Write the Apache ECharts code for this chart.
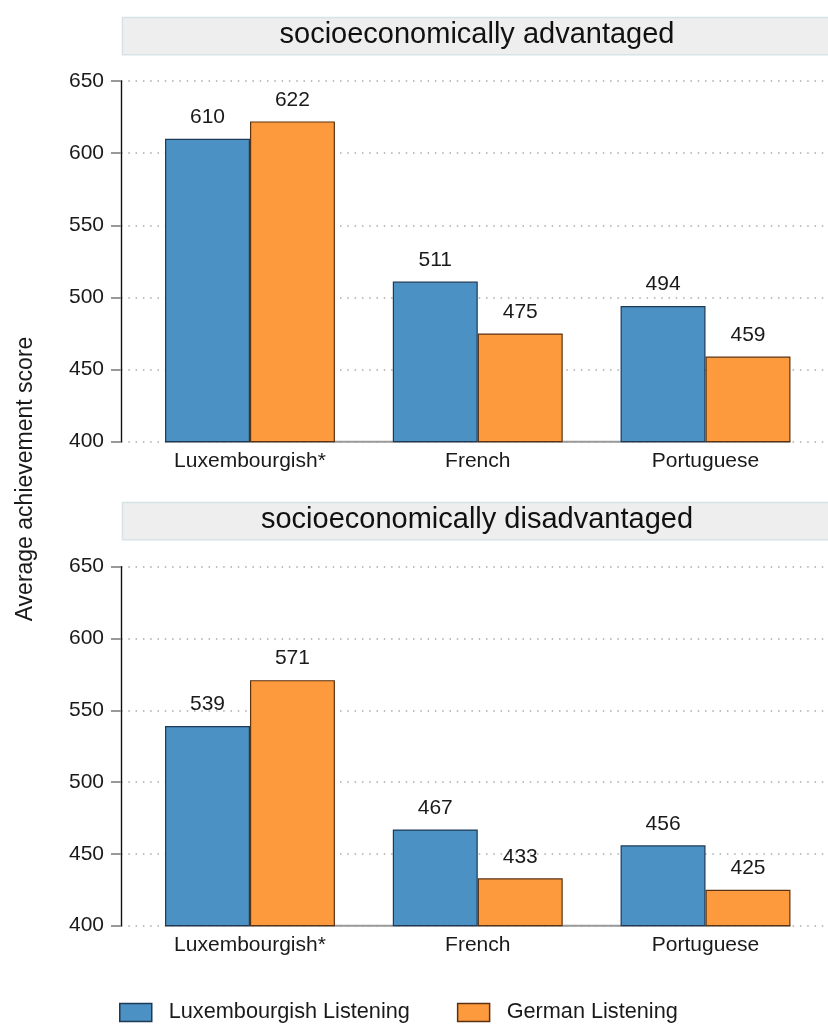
<!DOCTYPE html>
<html>
<head>
<meta charset="utf-8">
<script src="https://cdn.jsdelivr.net/npm/echarts@6/dist/echarts.min.js"></script>
<style>
html,body{margin:0;padding:0;background:#fff;}
#chart{width:828px;height:1026px;}
</style>
</head>
<body>
<div id="chart"></div>
<script>
// ---- data ----
const categories = ['Luxembourgish*', 'French', 'Portuguese'];
const seriesNames = ['Luxembourgish Listening', 'German Listening'];
const panelTitles = ['socioeconomically advantaged', 'socioeconomically disadvantaged'];
const advLux = [610, 511, 494];
const advGer = [622, 475, 459];
const disLux = [539, 467, 456];
const disGer = [571, 433, 425];
const yTicks = [400, 450, 500, 550, 600, 650];
const yAxisTitle = 'Average achievement score';

// ---- style / layout ----
const FONT = 'Liberation Sans, Arial, Helvetica, sans-serif';
const BLUE = '#4b91c3', BLUE_B = '#1e3a56';
const ORANGE = '#fe9a3e', ORANGE_B = '#5a3212';
const yMin = yTicks[0], yMax = yTicks[yTicks.length - 1], yStep = yTicks[1] - yTicks[0];
const panels = [
  { top: 81, height: 360.7, boxTop: 16.7, data: [advLux, advGer] },
  { top: 566.7, height: 359, boxTop: 501.7, data: [disLux, disGer] }
];
const axisLeft = 121, barLeft = 136.1, barRight = 8.6;

const grid = [], xAxis = [], yAxis = [], series = [], graphic = [];
panels.forEach((p, i) => {
  grid.push({ left: axisLeft, right: 0, top: p.top, height: p.height, containLabel: false });
  grid.push({ left: barLeft, right: barRight, top: p.top, height: p.height, containLabel: false });
  const gA = 2 * i, gB = 2 * i + 1;
  xAxis.push({ gridIndex: gA, type: 'value', show: false, min: 0, max: 1 });
  xAxis.push({
    gridIndex: gB, type: 'category', data: categories,
    axisLine: { show: false }, axisTick: { show: false },
    axisLabel: { margin: 9, fontSize: 21, color: '#1a1a1a', fontFamily: FONT }
  });
  yAxis.push({
    gridIndex: gA, type: 'value', min: yMin, max: yMax, interval: yStep,
    axisLine: { show: true, lineStyle: { color: '#111', width: 1.4 } },
    axisTick: { show: true, length: 10, lineStyle: { color: '#999', width: 2 } },
    axisLabel: { margin: 17, fontSize: 21, color: '#1a1a1a', fontFamily: FONT },
    splitLine: { show: true, lineStyle: { color: '#aaa', width: 1.5, type: [1.5, 5.8] } }
  });
  yAxis.push({ gridIndex: gB, type: 'value', min: yMin, max: yMax, interval: yStep, show: false, splitLine: { show: false } });

  series.push({
    type: 'custom', xAxisIndex: gB, yAxisIndex: gB, z: 1, silent: true,
    data: [[0, yMin]],
    renderItem: function (params, api) {
      const p0 = api.coord([0, yMin]);
      const p1 = api.coord([categories.length - 1, yMin]);
      const band = api.size([1, 0])[0];
      const half = band * (1 - 0.254) / 2;
      return { type: 'line', shape: { x1: p0[0] - half, y1: p0[1], x2: p1[0] + half, y2: p1[1] },
               style: { stroke: '#9a9a9a', lineWidth: 2 } };
    }
  });
  const colors = [[BLUE, BLUE_B], [ORANGE, ORANGE_B]];
  p.data.forEach((vals, k) => {
    series.push({
      name: seriesNames[k], type: 'bar', xAxisIndex: gB, yAxisIndex: gB, z: 3,
      data: vals, barGap: '0%', barCategoryGap: '25.4%',
      itemStyle: { color: colors[k][0], borderColor: colors[k][1], borderWidth: 1.2 },
      label: { show: true, position: 'top', distance: 11, fontSize: 21, color: '#1a1a1a', fontFamily: FONT },
      emphasis: { disabled: true }
    });
  });

  graphic.push({
    type: 'rect', left: axisLeft + 0.7, top: p.boxTop,
    shape: { width: 828 - axisLeft - 0.7, height: 37.3 },
    style: { fill: '#eeeeee', stroke: '#d8e3e7', lineWidth: 1.5 }, z: 0
  });
  graphic.push({
    type: 'text', x: 477, y: p.boxTop + 18.5,
    style: { text: panelTitles[i], fontSize: 29, fontFamily: FONT, fill: '#111', align: 'center', verticalAlign: 'middle' }, z: 1
  });
});

graphic.push({
  type: 'text', x: 26, y: 479, rotation: Math.PI / 2,
  style: { text: yAxisTitle, fontSize: 23, fontFamily: FONT, fill: '#1a1a1a', align: 'center', verticalAlign: 'middle' }
});

const chart = echarts.init(document.getElementById('chart'), null, { renderer: 'canvas' });
chart.setOption({
  animation: false,
  backgroundColor: '#fff',
  grid: grid, xAxis: xAxis, yAxis: yAxis, series: series, graphic: graphic,
  legend: {
    data: seriesNames, left: 119, top: 1001.5, padding: 0,
    itemWidth: 32, itemHeight: 18, itemGap: 47, icon: 'rect',
    itemStyle: { borderWidth: 1.5 },
    textStyle: { fontSize: 21.7, color: '#1a1a1a', fontFamily: FONT, padding: [0, 0, 0, 12] }
  }
});
</script>
</body>
</html>
